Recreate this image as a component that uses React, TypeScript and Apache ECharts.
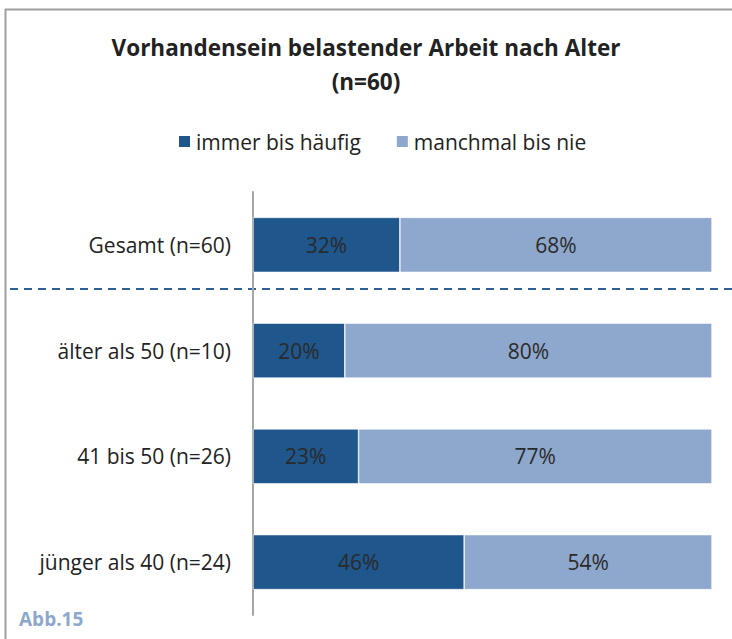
import React, { useEffect, useRef } from "react";
import * as echarts from "echarts";

const categories = ["Gesamt (n=60)", "älter als 50 (n=10)", "41 bis 50 (n=26)", "jünger als 40 (n=24)"];
const seriesNames = ["immer bis häufig", "manchmal bis nie"];
const oftenValues = [32, 20, 23, 46];
const rarelyValues = [68, 80, 77, 54];
const titleText = "Vorhandensein belastender Arbeit nach Alter\n(n=60)";
const figureLabel = "Abb.15";

const FONT = "Open Sans, Lato, sans-serif";

export default function App() {
  const ref = useRef<HTMLDivElement>(null);
  useEffect(() => {
    if (!ref.current) return;
    const chart = echarts.init(ref.current, undefined, { renderer: "svg" });
    chart.setOption({
      animation: false,
      backgroundColor: "#ffffff",
      title: {
        text: titleText,
        left: "center",
        top: 25,
        textStyle: { fontFamily: FONT, fontSize: 22.5, fontWeight: "bold", color: "#222", lineHeight: 34 },
      },
      legend: {
        top: 126,
        left: 172,
        itemWidth: 13,
        itemHeight: 13,
        itemGap: 34,
        icon: "rect",
        textStyle: { fontFamily: FONT, fontSize: 21, color: "#222" },
        data: seriesNames,
      },
      grid: { left: 253, right: 20, top: 192, bottom: 24 },
      xAxis: {
        type: "value",
        min: 0,
        max: 100,
        show: false,
      },
      yAxis: {
        type: "category",
        data: categories,
        inverse: true,
        axisLine: { show: true, lineStyle: { color: "#a6a6a6", width: 2 } },
        axisTick: { show: false },
        axisLabel: { fontFamily: FONT, fontSize: 21, color: "#222", margin: 22 },
      },
      series: [
        {
          name: seriesNames[0],
          type: "bar",
          stack: "total",
          data: oftenValues,
          barCategoryGap: "48%",
          itemStyle: { color: "#1f568c", borderColor: "#ffffff", borderWidth: 0.6 },
          label: {
            show: true,
            position: "inside",
            formatter: "{c}%",
            fontFamily: FONT,
            fontSize: 21,
            color: "#2a2a2a",
          },
        },
        {
          name: seriesNames[1],
          type: "bar",
          stack: "total",
          data: rarelyValues,
          barCategoryGap: "48%",
          itemStyle: { color: "#8ea8cd", borderColor: "#ffffff", borderWidth: 0.6 },
          label: {
            show: true,
            position: "inside",
            formatter: "{c}%",
            fontFamily: FONT,
            fontSize: 21,
            color: "#2a2a2a",
          },
        },
      ],
      graphic: [
        { type: "line", shape: { x1: 5.5, y1: 9, x2: 5.5, y2: 639 }, style: { stroke: "#a0a0a0", lineWidth: 2 } },
        { type: "line", shape: { x1: 5, y1: 9.5, x2: 732, y2: 9.5 }, style: { stroke: "#a0a0a0", lineWidth: 2 } },
        {
          type: "line",
          shape: { x1: 10, y1: 289, x2: 732, y2: 289 },
          style: { stroke: "#2e6096", lineWidth: 2, lineDash: [8, 6] },
        },
        {
          type: "text",
          left: 19,
          top: 609,
          style: { text: figureLabel, fontFamily: FONT, fontSize: 19, fontWeight: "bold", fill: "#8ea8cd" },
        },
      ],
    });
    return () => chart.dispose();
  }, []);
  return <div ref={ref} style={{ position: "absolute", left: 0, top: 0, width: 732, height: 639 }} />;
}
